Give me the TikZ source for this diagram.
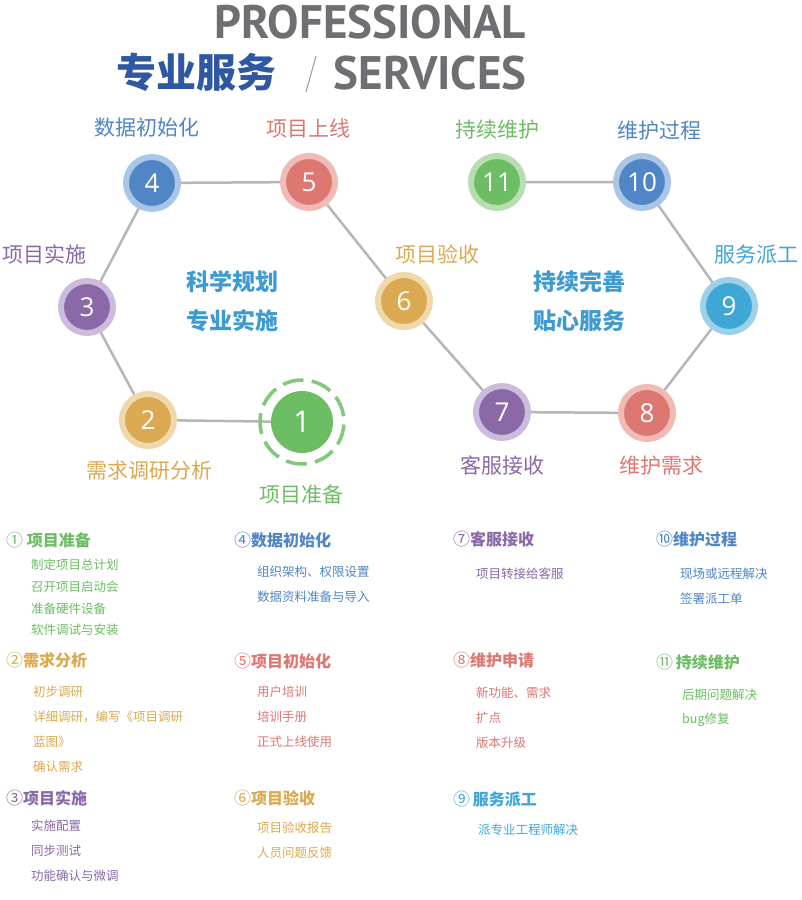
\documentclass[tikz,border=0pt]{standalone}
\usepackage{fontspec}
\setmainfont{Open Sans}
\newfontfamily\cjk{Noto Sans CJK SC}
\newfontfamily\titlefont{PT Sans}
\usetikzlibrary{backgrounds}

\definecolor{cgreen}{HTML}{6CBD64}
\definecolor{cgreenL}{HTML}{B7DDB0}
\definecolor{cgold}{HTML}{DBA951}
\definecolor{cgoldL}{HTML}{EDD9A9}
\definecolor{cpurple}{HTML}{8B69A8}
\definecolor{cpurpleL}{HTML}{CDBBDD}
\definecolor{cblue}{HTML}{5086C6}
\definecolor{cblueL}{HTML}{ABC5E6}
\definecolor{cred}{HTML}{DC7772}
\definecolor{credL}{HTML}{F0BAB5}
\definecolor{ccyan}{HTML}{3FA7D6}
\definecolor{ccyanL}{HTML}{9DD1EA}
\definecolor{ctitle}{HTML}{6D6F73}
\definecolor{cnavy}{HTML}{2F57A2}
\definecolor{cmid}{HTML}{3E9BD1}
\definecolor{cedge}{HTML}{B6B6B6}

\newcommand{\numc}[1]{{\fontsize{17}{17}\selectfont\mdseries #1}}

\begin{document}
\begin{tikzpicture}[x=1pt, y=-1pt,
	ball/.style={circle, fill=#1, draw=#1L, line width=6pt, minimum size=52pt, inner sep=0pt, text=white, font=\fontsize{26}{26}\selectfont},
	lbl/.style={text=#1, font=\cjk\fontsize{21}{21}\selectfont},
	motto/.style={text=cmid, font=\cjk\bfseries\fontsize{23}{23}\selectfont},
	head/.style={anchor=west, inner xsep=0pt, text=#1, font=\cjk\bfseries\fontsize{16}{16}\selectfont},
	item/.style={anchor=west, inner xsep=0pt, text=#1, font=\cjk\fontsize{12.5}{12.5}\selectfont},
	edge/.style={cedge, line width=2.5pt}]
	\useasboundingbox (0,0) rectangle (802,900);

	% titre
	\node[text=ctitle, font=\titlefont\bfseries\fontsize{47}{47}\selectfont] (pro) at (370,22) {PROFESSIONAL};
	\node[text=ctitle, font=\titlefont\bfseries\fontsize{47}{47}\selectfont] (ser) at (430,73) {SERVICES};
	\node[text=cnavy, font=\cjk\bfseries\fontsize{40}{40}\selectfont] (zyfw) at (196,72) {专业服务};
	\draw[ctitle!70, line width=1pt] (316,56) -- (306,92);

	% les cercles
	\node[circle, fill=cgreen, minimum size=62pt, inner sep=0pt, text=white, font=\fontsize{30}{30}\selectfont] (n1) at (302,422) {1};
	\draw[cgreen!85, line width=3.5pt, dash pattern=on 21pt off 8.3pt, rotate=8] (n1.center) circle (42pt);
	\node[ball=cgold] (n2) at (148,420) {2};
	\node[ball=cpurple] (n3) at (87,307) {3};
	\node[ball=cblue] (n4) at (152,183) {4};
	\node[ball=cred] (n5) at (309,182) {5};
	\node[ball=cgold] (n6) at (404,301) {6};
	\node[ball=cpurple] (n7) at (502,412) {7};
	\node[ball=cred] (n8) at (647,413) {8};
	\node[ball=ccyan] (n9) at (729,306) {9};
	\node[ball=cblue] (n10) at (642,182) {10};
	\node[ball=cgreen] (n11) at (497,182) {11};

	\begin{pgfonlayer}{background}
		\fill[white] (0,0) rectangle (802,900);
		\draw[edge] (n1) -- (n2) -- (n3) -- (n4) -- (n5) -- (n6) -- (n7) -- (n8) -- (n9) -- (n10) -- (n11);
	\end{pgfonlayer}

	% etiquettes
	\node[lbl=cgreen] (t1) at (301,494) {项目准备};
	\node[lbl=cgold] (t2) at (149,471) {需求调研分析};
	\node[lbl=cpurple] (t3) at (44,254) {项目实施};
	\node[lbl=cblue] (t4) at (147,128) {数据初始化};
	\node[lbl=cred] (t5) at (308,128) {项目上线};
	\node[lbl=cgold] (t6) at (437,254) {项目验收};
	\node[lbl=cpurple] (t7) at (502,465) {客服接收};
	\node[lbl=cred] (t8) at (661,466) {维护需求};
	\node[lbl=ccyan] (t9) at (756,255) {服务派工};
	\node[lbl=cblue] (t10) at (659,131) {维护过程};
	\node[lbl=cgreen] (t11) at (497,130) {持续维护};

	\node[motto] (m1) at (232,282) {科学规划};
	\node[motto] (m2) at (232,321) {专业实施};
	\node[motto] (m3) at (579,282) {持续完善};
	\node[motto] (m4) at (579,321) {贴心服务};

	% liste du bas
	\node[head=cgreen] (h1) at (6,540) {\numc{①}\ 项目准备};
	\foreach \t [count=\i from 0] in {制定项目总计划, 召开项目启动会, 准备硬件设备, 软件调试与安装}
		\node[item=cgreen] (a\i) at (31,565+21.7*\i) {\t};
	\node[head=cgold] (h2) at (6,660) {\numc{②}需求分析};
	\foreach \t [count=\i from 0] in {初步调研, 详细调研，编写《项目调研, 蓝图》, 确认需求}
		\node[item=cgold] (b\i) at (33,692+25*\i) {\t};
	\node[head=cpurple] (h3) at (6,798) {\numc{③}项目实施};
	\foreach \t [count=\i from 0] in {实施配置, 同步测试, 功能确认与微调}
		\node[item=cpurple] (c\i) at (31,826+25*\i) {\t};

	\node[head=cblue] (h4) at (234,540) {\numc{④}数据初始化};
	\foreach \t [count=\i from 0] in {组织架构、权限设置, 数据资料准备与导入}
		\node[item=cblue] (d\i) at (257,572+25*\i) {\t};
	\node[head=cred] (h5) at (234,661) {\numc{⑤}项目初始化};
	\foreach \t [count=\i from 0] in {用户培训, 培训手册, 正式上线使用}
		\node[item=cred] (e\i) at (257,692+25*\i) {\t};
	\node[head=cgold] (h6) at (234,798) {\numc{⑥}项目验收};
	\foreach \t [count=\i from 0] in {项目验收报告, 人员问题反馈}
		\node[item=cgold] (f\i) at (257,828+25*\i) {\t};

	\node[head=cpurple] (h7) at (453,539) {\numc{⑦}客服接收};
	\node[item=cpurple] (g0) at (476,574) {项目转接给客服};
	\node[head=cred] (h8) at (453,660) {\numc{⑧}维护申请};
	\foreach \t [count=\i from 0] in {新功能、需求, 扩点, 版本升级}
		\node[item=cred] (k\i) at (476,693+25*\i) {\t};
	\node[head=ccyan] (h9) at (453,799) {\numc{⑨}\,服务派工};
	\node[item=ccyan] (l0) at (478,830) {派专业工程师解决};

	\node[head=cblue] (h10) at (656,539) {\numc{⑩}维护过程};
	\foreach \t [count=\i from 0] in {现场或远程解决, 签署派工单}
		\node[item=cblue] (p\i) at (680,574+25*\i) {\t};
	\node[head=cgreen] (h11) at (656,662) {\numc{⑪}\,持续维护};
	\foreach \t [count=\i from 0] in {后期问题解决, bug修复}
		\node[item=cgreen] (q\i) at (682,695+25*\i) {\t};
\end{tikzpicture}
\end{document}
